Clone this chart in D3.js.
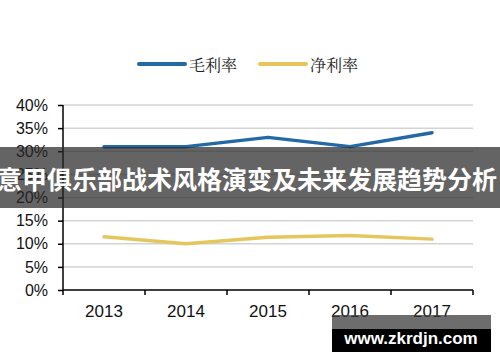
<!DOCTYPE html>
<html>
<head>
<meta charset="utf-8">
<script src="https://cdn.jsdelivr.net/npm/d3@7"></script>
<style>
  body { margin: 0; background: #fff; }
  svg { display: block; }
</style>
</head>
<body>
<div class="chart"></div>
<script>
const years = ['2013', '2014', '2015', '2016', '2017'];
const grossMargin = [31.0, 31.0, 33.0, 31.0, 34.0];
const netMargin = [11.5, 10.0, 11.4, 11.8, 11.0];
const yTicks = [0, 5, 10, 15, 20, 25, 30, 35, 40];
const seriesNames = ['毛利率', '净利率'];
const seriesColors = ['#2369a6', '#e5c65c'];

const W = 500, H = 362;
const margin = ({top: 105, right: 27, bottom: 72, left: 63});
const width = W - margin.left - margin.right,
    height = H - margin.top - margin.bottom;

const svg = d3.select('.chart').append('svg')
    .attr('width', W)
    .attr('height', H);
const g = svg.append('g')
    .attr('transform', `translate(${margin.left},${margin.top})`);

const xScale = d3.scaleBand()
    .domain(years)
    .range([0, width]);
const yScale = d3.scaleLinear()
    .domain([0, 40])
    .range([height, 0]);

// gridlines
g.selectAll('.grid')
    .data(yTicks.filter(d => d > 0))
    .enter()
    .append('line')
    .attr('x1', 0)
    .attr('x2', width)
    .attr('y1', d => yScale(d))
    .attr('y2', d => yScale(d))
    .attr('stroke', '#d3d3d3')
    .attr('stroke-width', 1.5);

const yAxis = d3.axisLeft(yScale)
    .tickValues(yTicks)
    .tickFormat(d => d + '%')
    .tickSize(5)
    .tickPadding(10);
g.append('g')
    .call(yAxis)
    .call(s => s.select('.domain').attr('stroke', '#000').attr('stroke-width', 1.5).attr('d', `M0,${height}V0`))
    .call(s => s.selectAll('.tick line').attr('stroke', '#000').attr('stroke-width', 1.5))
    .call(s => s.selectAll('text').attr('font-size', 16).attr('fill', '#111')
        .attr('font-family', 'Liberation Sans, Arial, sans-serif'));

const xAxis = d3.axisBottom(xScale)
    .tickSize(0)
    .tickPadding(15);
const xg = g.append('g')
    .attr('transform', `translate(0,${height})`)
    .call(xAxis)
    .call(s => s.select('.domain').attr('stroke', '#000').attr('stroke-width', 1.5).attr('d', `M0,0H${width}`))
    .call(s => s.selectAll('text').attr('font-size', 17).attr('fill', '#111')
        .attr('font-family', 'Liberation Sans, Arial, sans-serif'));
// boundary ticks between categories
xg.selectAll('.btick')
    .data(years.map(d => xScale(d)).concat([width]))
    .enter()
    .append('line')
    .attr('x1', d => d)
    .attr('x2', d => d)
    .attr('y1', 0)
    .attr('y2', 5)
    .attr('stroke', '#000')
    .attr('stroke-width', 1.5);

const line = d3.line()
    .x((d, i) => xScale(years[i]) + xScale.bandwidth() / 2)
    .y(d => yScale(d));

[grossMargin, netMargin].forEach((vals, k) => {
    g.append('path')
        .datum(vals)
        .attr('d', line)
        .attr('fill', 'none')
        .attr('stroke', seriesColors[k])
        .attr('stroke-width', 3.5)
        .attr('stroke-linecap', 'round')
        .attr('stroke-linejoin', 'round');
});

// legend
const legendX = [139, 260];
seriesNames.forEach((name, k) => {
    svg.append('line')
        .attr('x1', legendX[k])
        .attr('x2', legendX[k] + 46)
        .attr('y1', 64)
        .attr('y2', 64)
        .attr('stroke', seriesColors[k])
        .attr('stroke-width', 4)
        .attr('stroke-linecap', 'round');
    svg.append('text')
        .text(name)
        .attr('x', legendX[k] + 50)
        .attr('y', 64)
        .attr('dominant-baseline', 'central')
        .attr('font-size', 16)
        .attr('fill', '#222')
        .attr('font-family', 'Noto Serif CJK SC, Noto Sans CJK SC, sans-serif');
});

// overlay banner
svg.append('rect')
    .attr('x', 0)
    .attr('y', 147)
    .attr('width', W)
    .attr('height', 61)
    .attr('fill', 'rgba(40,40,40,0.72)');
svg.append('text')
    .text('意甲俱乐部战术风格演变及未来发展趋势分析')
    .attr('x', 247)
    .attr('y', 178)
    .attr('text-anchor', 'middle')
    .attr('dominant-baseline', 'central')
    .attr('font-size', 25)
    .attr('font-weight', 'bold')
    .attr('fill', '#fff')
    .attr('font-family', 'Noto Sans CJK SC, sans-serif');

// watermark
svg.append('rect')
    .attr('x', 332).attr('y', 315)
    .attr('width', 159).attr('height', 14)
    .attr('fill', 'rgba(60,60,60,0.75)');
svg.append('rect')
    .attr('x', 332).attr('y', 329)
    .attr('width', 159).attr('height', 23)
    .attr('fill', '#000');
svg.append('text')
    .text('www.zkrdjn.com')
    .attr('x', 411)
    .attr('y', 338)
    .attr('text-anchor', 'middle')
    .attr('dominant-baseline', 'central')
    .attr('font-size', 17)
    .attr('font-weight', 'bold')
    .attr('fill', '#fff')
    .attr('font-family', 'Liberation Sans, Arial, sans-serif');
</script>
</body>
</html>
